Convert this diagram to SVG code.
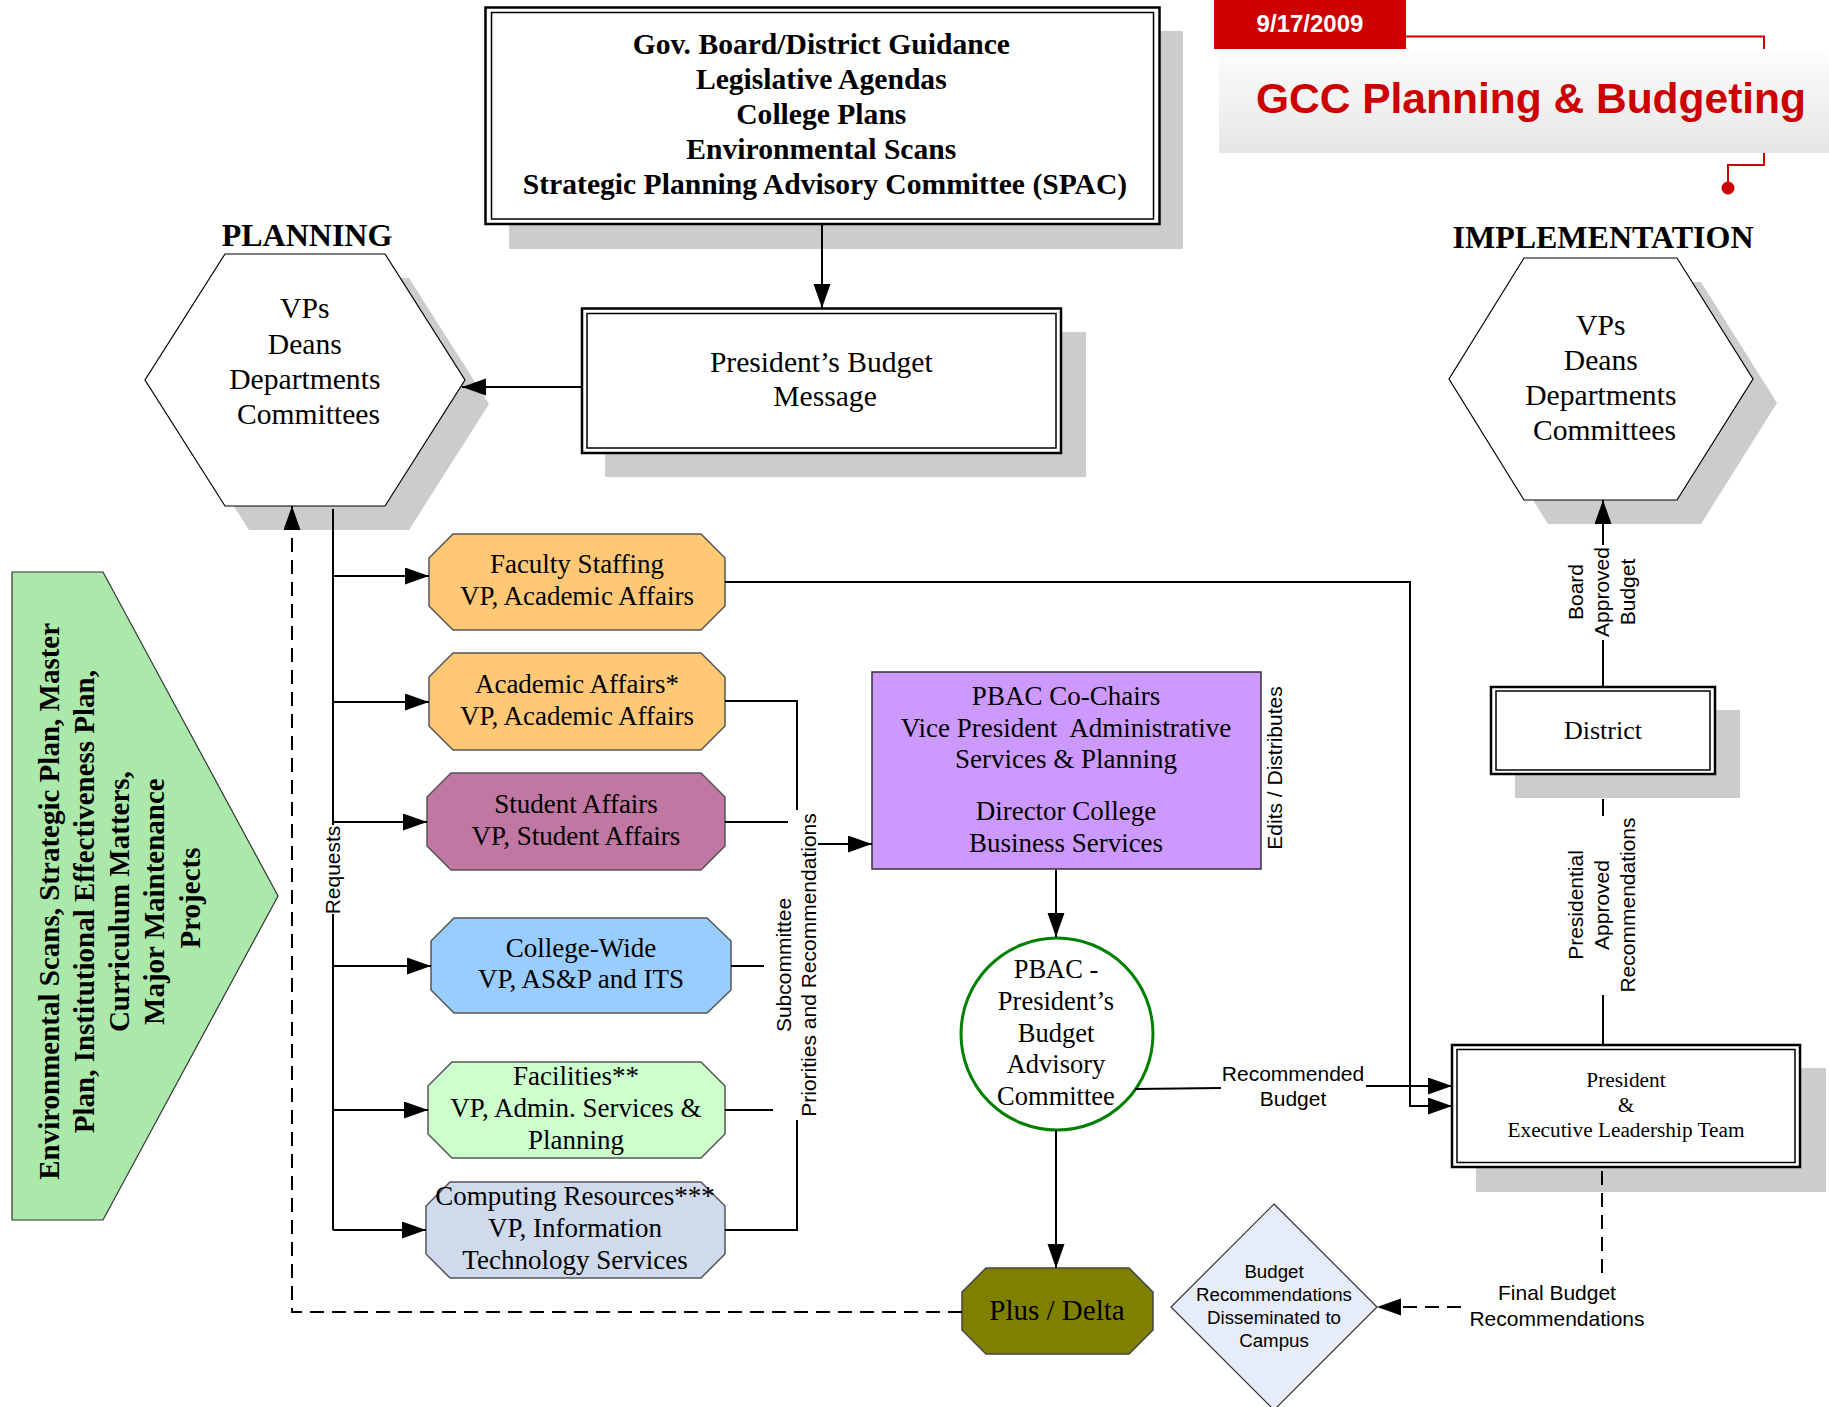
<svg xmlns="http://www.w3.org/2000/svg" width="1829" height="1407" viewBox="0 0 1829 1407">
<defs>
<linearGradient id="banner" x1="0" y1="0" x2="0" y2="1">
<stop offset="0" stop-color="#FDFDFD"/>
<stop offset="1" stop-color="#E6E6E6"/>
</linearGradient>
<marker id="arr" markerUnits="userSpaceOnUse" markerWidth="26" markerHeight="18" refX="24" refY="8.5" orient="auto">
<path d="M0,0 L24,8.5 L0,17 Z" fill="#000"/>
</marker>
<style>
.serif{font-family:"Liberation Serif","Times New Roman",serif;fill:#000}
.sans{font-family:"Liberation Sans",Arial,sans-serif;fill:#000}
.b{font-weight:bold}
.mid{text-anchor:middle}
.shadow{fill:#CCCCCC;stroke:none}
.box{fill:#fff;stroke:#000}
.oct{stroke:#555;stroke-width:1.5}
.con{fill:none;stroke:#000;stroke-width:2}
.dash{fill:none;stroke:#000;stroke-width:2;stroke-dasharray:14 8}
</style>
</defs>
<rect width="1829" height="1407" fill="#fff"/>

<g id="title">
<rect x="1219" y="49" width="610" height="104" fill="url(#banner)"/>
<rect x="1214" y="0" width="192" height="49" fill="#CC0000"/>
<polyline points="1406,36.5 1764,36.5 1764,49" fill="none" stroke="#CC0000" stroke-width="2"/>
<polyline points="1764,153 1764,165 1728,165 1728,186" fill="none" stroke="#CC0000" stroke-width="2"/>
<circle cx="1728" cy="188" r="6.5" fill="#CC0000"/>
<text x="1310" y="32" class="sans b mid" font-size="24" style="fill:#fff">9/17/2009</text>
<text x="1531" y="113" class="sans b mid" font-size="42.5" style="fill:#CC0000">GCC Planning &amp; Budgeting</text>
</g>

<g id="guidance">
<rect class="shadow" x="509" y="31" width="674" height="218"/>
<rect class="box" x="485.5" y="7.5" width="674" height="216.5" stroke-width="2.5"/>
<rect class="box" x="491.5" y="12.5" width="662" height="206.5" stroke-width="1.5"/>
<text class="serif b mid" font-size="29.6">
<tspan x="825" y="54">Gov. Board/District Guidance</tspan>
<tspan x="825" y="89">Legislative Agendas</tspan>
<tspan x="825" y="124">College Plans</tspan>
<tspan x="825" y="159">Environmental Scans</tspan>
<tspan x="825" y="194">Strategic Planning Advisory Committee (SPAC)</tspan>
</text>
</g>

<g id="presidents-message">
<rect class="shadow" x="605" y="332" width="481" height="145"/>
<rect class="box" x="582" y="308.5" width="479" height="144.5" stroke-width="2.5"/>
<rect class="box" x="587" y="313.5" width="469" height="134.5" stroke-width="1.5"/>
<text class="serif mid" font-size="29.6">
<tspan x="825" y="372">President’s Budget</tspan>
<tspan x="825" y="406">Message</tspan>
</text>
</g>

<g id="planning">
<text x="307" y="246" class="serif b mid" font-size="32">PLANNING</text>
<polygon class="shadow" points="249,278 409,278 489,404 409,530 249,530 169,404"/>
<polygon points="225,254 385,254 465,380 385,506 225,506 145,380" fill="#fff" stroke="#000" stroke-width="1.2"/>
<text class="serif mid" font-size="29.6">
<tspan x="308.5" y="318">VPs</tspan>
<tspan x="308.5" y="354">Deans</tspan>
<tspan x="308.5" y="389">Departments</tspan>
<tspan x="308.5" y="424">Committees</tspan>
</text>
</g>

<g id="implementation">
<text x="1603" y="248" class="serif b mid" font-size="32">IMPLEMENTATION</text>
<polygon class="shadow" points="1548,282 1701,282 1777,403 1701,524 1548,524 1473,403"/>
<polygon points="1524,258 1677,258 1753,379 1677,500 1524,500 1449,379" fill="#fff" stroke="#000" stroke-width="1.2"/>
<text class="serif mid" font-size="29.6">
<tspan x="1604.5" y="335">VPs</tspan>
<tspan x="1604.5" y="370">Deans</tspan>
<tspan x="1604.5" y="405">Departments</tspan>
<tspan x="1604.5" y="440">Committees</tspan>
</text>
</g>

<g id="sources">
<polygon points="12,572 103,572 278,896 103,1220 12,1220" fill="#ABE9AB" stroke="#333" stroke-width="1.2"/>
<text class="serif b mid" font-size="29" transform="translate(58.5,898) rotate(-90)">
<tspan x="0" y="0">Environmental Scans, Strategic Plan, Master</tspan>
<tspan x="0" y="35.3">Plan, Institutional Effectiveness Plan,</tspan>
<tspan x="0" y="70.6">Curriculum Matters,</tspan>
<tspan x="0" y="105.9">Major Maintenance</tspan>
<tspan x="0" y="141.2">Projects</tspan>
</text>
</g>

<g id="faculty-staffing">
<path class="oct" fill="#FFC875" d="M453,534 L701,534 L725,558 L725,606 L701,630 L453,630 L429,606 L429,558 Z"/>
<text class="serif mid" font-size="27"><tspan x="577" y="573">Faculty Staffing</tspan><tspan x="577" y="605">VP, Academic Affairs</tspan></text>
</g>
<g id="academic-affairs">
<path class="oct" fill="#FFC875" d="M453,653 L701,653 L725,677 L725,726 L701,750 L453,750 L429,726 L429,677 Z"/>
<text class="serif mid" font-size="27"><tspan x="577" y="693">Academic Affairs*</tspan><tspan x="577" y="725">VP, Academic Affairs</tspan></text>
</g>
<g id="student-affairs">
<path class="oct" fill="#C077A2" d="M451,773 L701,773 L725,797 L725,846 L701,870 L451,870 L427,846 L427,797 Z"/>
<text class="serif mid" font-size="27"><tspan x="576" y="813">Student Affairs</tspan><tspan x="576" y="845">VP, Student Affairs</tspan></text>
</g>
<g id="college-wide">
<path class="oct" fill="#99CCFF" d="M454,918 L707,918 L731,941 L731,990 L707,1013 L454,1013 L431,990 L431,941 Z"/>
<text class="serif mid" font-size="27"><tspan x="581" y="957">College-Wide</tspan><tspan x="581" y="988">VP, AS&amp;P and ITS</tspan></text>
</g>
<g id="facilities">
<path class="oct" fill="#CCFFCC" d="M452,1062 L701,1062 L725,1086 L725,1134 L701,1158 L452,1158 L428,1134 L428,1086 Z"/>
<text class="serif mid" font-size="27"><tspan x="576" y="1085">Facilities**</tspan><tspan x="576" y="1117">VP, Admin. Services &amp;</tspan><tspan x="576" y="1149">Planning</tspan></text>
</g>
<g id="computing">
<path class="oct" fill="#CFDAEC" d="M450,1182 L701,1182 L725,1206 L725,1254 L701,1278 L450,1278 L426,1254 L426,1206 Z"/>
<text class="serif mid" font-size="27"><tspan x="575" y="1205">Computing Resources***</tspan><tspan x="575" y="1237">VP, Information</tspan><tspan x="575" y="1269">Technology Services</tspan></text>
</g>

<g id="pbac-cochairs">
<rect x="872" y="672" width="389" height="197" fill="#CC99FF" stroke="#333" stroke-width="1.5"/>
<text class="serif mid" font-size="27" xml:space="preserve"><tspan x="1066" y="705">PBAC Co-Chairs</tspan><tspan x="1066" y="737">Vice President  Administrative</tspan><tspan x="1066" y="768">Services &amp; Planning</tspan><tspan x="1066" y="820">Director College</tspan><tspan x="1066" y="852">Business Services</tspan></text>
</g>

<g id="pbac">
<circle cx="1057" cy="1034" r="96" fill="#fff" stroke="#008000" stroke-width="3"/>
<text class="serif mid" font-size="26.5"><tspan x="1056" y="978">PBAC -</tspan><tspan x="1056" y="1010">President’s</tspan><tspan x="1056" y="1042">Budget</tspan><tspan x="1056" y="1073">Advisory</tspan><tspan x="1056" y="1105">Committee</tspan></text>
</g>

<g id="plus-delta">
<path fill="#808000" stroke="#444" stroke-width="1.5" d="M986,1268 L1129,1268 L1153,1292 L1153,1330 L1129,1354 L986,1354 L962,1330 L962,1292 Z"/>
<text x="1057" y="1320" class="serif mid" font-size="29">Plus / Delta</text>
</g>

<g id="disseminated">
<polygon points="1274,1204 1377,1307 1274,1410 1171,1307" fill="#E6ECF8" stroke="#333" stroke-width="1.2"/>
<text class="sans mid" font-size="18.7"><tspan x="1274" y="1278">Budget</tspan><tspan x="1274" y="1301">Recommendations</tspan><tspan x="1274" y="1324">Disseminated to</tspan><tspan x="1274" y="1347">Campus</tspan></text>
</g>

<g id="district">
<rect class="shadow" x="1515" y="710" width="225" height="88"/>
<rect class="box" x="1491" y="687" width="224" height="87" stroke-width="2.5"/>
<rect class="box" x="1496" y="691" width="214" height="79" stroke-width="1.5"/>
<text x="1603" y="739" class="serif mid" font-size="26">District</text>
</g>

<g id="president-elt">
<rect class="shadow" x="1476" y="1068" width="350" height="124"/>
<rect class="box" x="1452" y="1045" width="348" height="122" stroke-width="2.5"/>
<rect class="box" x="1457" y="1049.5" width="338" height="113" stroke-width="1.5"/>
<text class="serif mid" font-size="21.3"><tspan x="1626" y="1087">President</tspan><tspan x="1626" y="1112">&amp;</tspan><tspan x="1626" y="1137">Executive Leadership Team</tspan></text>
</g>

<g id="connectors">
<line class="con" x1="822" y1="224" x2="822" y2="308" marker-end="url(#arr)"/>
<line class="con" x1="582" y1="387" x2="462" y2="387" marker-end="url(#arr)"/>
<line class="con" x1="333" y1="509" x2="333" y2="825"/>
<line class="con" x1="333" y1="914" x2="333" y2="1230"/>
<line class="con" x1="333" y1="576" x2="429" y2="576" marker-end="url(#arr)"/>
<line class="con" x1="333" y1="702" x2="429" y2="702" marker-end="url(#arr)"/>
<line class="con" x1="333" y1="822" x2="427" y2="822" marker-end="url(#arr)"/>
<line class="con" x1="333" y1="966" x2="431" y2="966" marker-end="url(#arr)"/>
<line class="con" x1="333" y1="1110" x2="428" y2="1110" marker-end="url(#arr)"/>
<line class="con" x1="333" y1="1230" x2="426" y2="1230" marker-end="url(#arr)"/>
<text class="sans mid" font-size="21" transform="translate(340,870) rotate(-90)">Requests</text>

<polyline class="con" points="725,701 797,701 797,810"/>
<line class="con" x1="725" y1="822" x2="788" y2="822"/>
<line class="con" x1="731" y1="966" x2="764" y2="966"/>
<line class="con" x1="725" y1="1110" x2="773" y2="1110"/>
<polyline class="con" points="725,1230 797,1230 797,1120"/>
<line class="con" x1="818" y1="844" x2="872" y2="844" marker-end="url(#arr)"/>
<text class="sans mid" font-size="21" transform="translate(790.5,965) rotate(-90)"><tspan x="0" y="0">Subcommittee</tspan><tspan x="0" y="25.5">Priorities and Recommendations</tspan></text>

<text class="sans mid" font-size="21" transform="translate(1282,768) rotate(-90)">Edits / Distributes</text>
<line class="con" x1="1056" y1="870" x2="1056" y2="937" marker-end="url(#arr)"/>
<line class="con" x1="1056" y1="1130" x2="1056" y2="1268" marker-end="url(#arr)"/>

<polyline class="con" points="725,582 1410,582 1410,1106 1452,1106" marker-end="url(#arr)"/>
<line class="con" x1="1135" y1="1089" x2="1221" y2="1088"/>
<line class="con" x1="1366" y1="1086" x2="1452" y2="1086" marker-end="url(#arr)"/>
<text class="sans mid" font-size="21"><tspan x="1293" y="1081">Recommended</tspan><tspan x="1293" y="1106">Budget</tspan></text>

<line class="con" x1="1603" y1="799" x2="1603" y2="816"/>
<line class="con" x1="1603" y1="995" x2="1603" y2="1045"/>
<text class="sans mid" font-size="21" transform="translate(1583,905) rotate(-90)"><tspan x="0" y="0">Presidential</tspan><tspan x="0" y="26">Approved</tspan><tspan x="0" y="52">Recommendations</tspan></text>

<line class="con" x1="1603" y1="687" x2="1603" y2="640"/>
<line class="con" x1="1603" y1="545" x2="1603" y2="500" marker-end="url(#arr)"/>
<text class="sans mid" font-size="21" transform="translate(1583,592) rotate(-90)"><tspan x="0" y="0">Board</tspan><tspan x="0" y="26">Approved</tspan><tspan x="0" y="52">Budget</tspan></text>

<line class="dash" x1="1602" y1="1171" x2="1602" y2="1278"/>
<line class="dash" x1="1461" y1="1307" x2="1377" y2="1307" marker-end="url(#arr)"/>
<text class="sans mid" font-size="21"><tspan x="1557" y="1300">Final Budget</tspan><tspan x="1557" y="1326">Recommendations</tspan></text>

<polyline class="dash" points="962,1312 292,1312 292,506" marker-end="url(#arr)"/>
</g>
</svg>
